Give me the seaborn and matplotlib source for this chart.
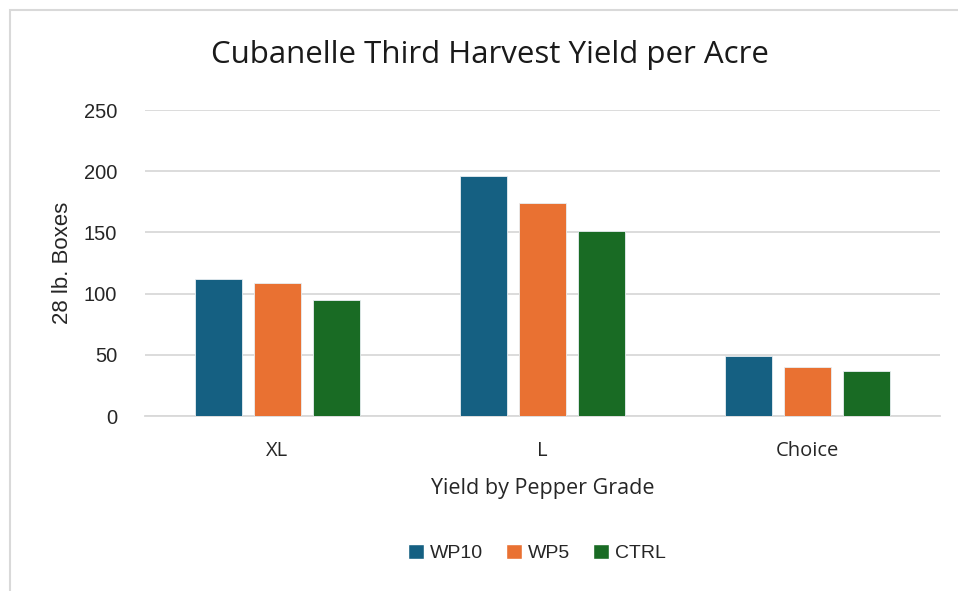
import matplotlib
matplotlib.use("Agg")
import matplotlib.pyplot as plt
import seaborn as sns
import pandas as pd
from matplotlib.patches import Rectangle

categories = ["XL", "L", "Choice"]
series_names = ["WP10", "WP5", "CTRL"]
wp10 = [112, 196, 49]
wp5 = [109, 174, 40]
ctrl = [95, 151, 36.5]
yticks = [0, 50, 100, 150, 200, 250]

colors = ["#156082", "#E97132", "#196B24"]

rows = []
for name, vals in zip(series_names, [wp10, wp5, ctrl]):
    for c, v in zip(categories, vals):
        rows.append({"Grade": c, "Series": name, "Value": v})
df = pd.DataFrame(rows)

sns.set_theme(style="white")
plt.rcParams['font.family'] = ['Liberation Sans', 'DejaVu Sans']

fig = plt.figure(figsize=(9.58, 5.91), dpi=100)
ax = fig.add_axes([145/958, 1-416/591, 795/958, 306/591])

sns.barplot(data=df, x="Grade", y="Value", hue="Series", order=categories,
            hue_order=series_names, palette=colors, saturation=1,
            width=0.668, gap=0.2,
            edgecolor="#e8eef2", linewidth=0.6, ax=ax, legend=True, zorder=3)

ax.set_ylim(0, 250)
ax.set_yticks(yticks)
ax.set_yticklabels([str(t) for t in yticks], fontsize=14.5, color="#262626")
ax.yaxis.grid(True, color="#d9d9d9", linewidth=1.3, zorder=0)
ax.set_axisbelow(True)
for s in ["top", "right", "left"]:
    ax.spines[s].set_visible(False)
ax.spines["bottom"].set_color("#d9d9d9")
ax.spines["bottom"].set_linewidth(1.3)
ax.tick_params(axis="y", length=0, pad=20)
ax.tick_params(axis="x", length=0, pad=18)
for lbl in ax.get_xticklabels():
    lbl.set_fontfamily(["Open Sans", "DejaVu Sans"])
    lbl.set_fontsize(14.5)
    lbl.set_color("#262626")
ax.set_xlim(-0.5, 2.5)

ax.set_xlabel("Yield by Pepper Grade", fontsize=15.5, color="#262626",
              fontfamily=["Open Sans", "DejaVu Sans"], labelpad=12)
ax.set_ylabel("28 lb. Boxes", fontsize=16, color="#262626", labelpad=8)

fig.text(490/958, 1-55/591, "Cubanelle Third Harvest Yield per Acre",
         ha="center", va="center", fontsize=22.5, color="#1a1a1a",
         fontfamily=["Open Sans", "DejaVu Sans"])

ax.get_legend().remove()
handles = [Rectangle((0, 0), 1, 1, facecolor=c) for c in colors]
fig.legend(handles, series_names, loc="center", bbox_to_anchor=(537/958, 1-553/591),
           ncol=3, frameon=False, fontsize=14, handlelength=0.8, handleheight=0.8,
           handletextpad=0.3, columnspacing=1.2)

fig.patches.append(Rectangle((10/958, -0.1), 1.2, (1-10/591) + 0.1,
                             transform=fig.transFigure, fill=False,
                             edgecolor="#d9d9d9", linewidth=1.5))

fig.savefig("out.png", dpi=100)
